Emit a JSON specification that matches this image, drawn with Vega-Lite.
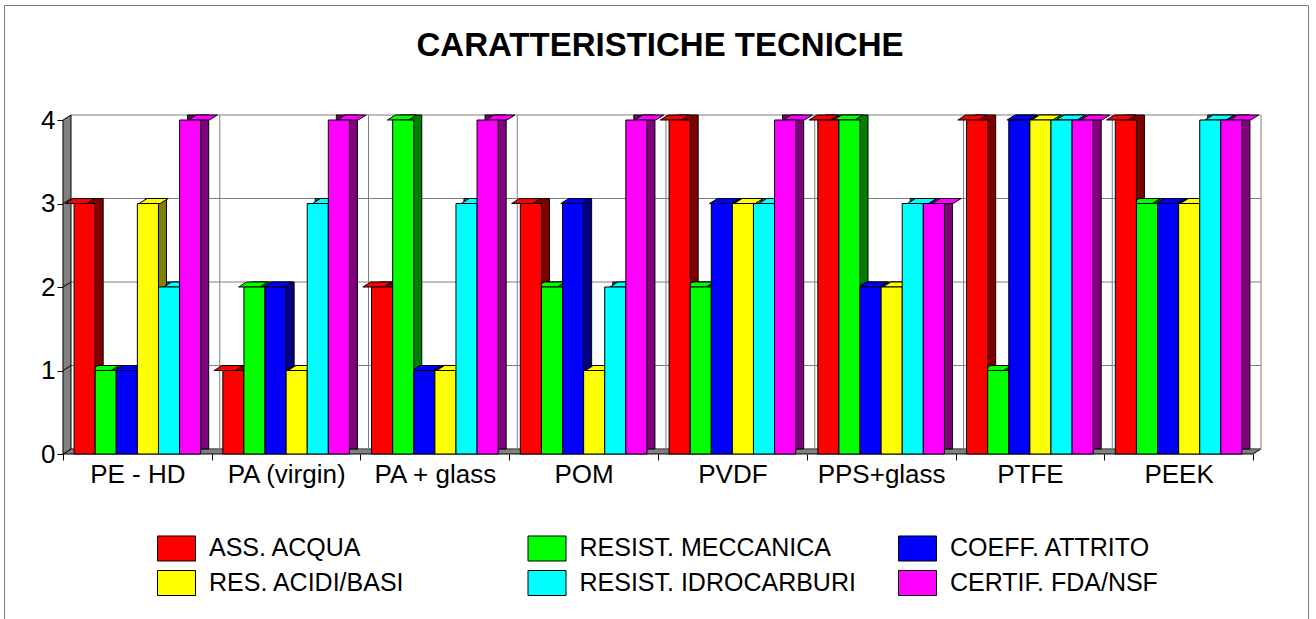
{
  "$schema": "https://vega.github.io/schema/vega-lite/v6.json",
  "autosize": "none",
  "padding": {"left": 4, "top": 5, "right": 8, "bottom": 0},
  "width": 1304,
  "height": 620,
  "background": "white",
  "config": {
    "font": "Liberation Sans",
    "view": {"stroke": "#7f7f7f", "strokeWidth": 1},
    "axis": {"labelFont": "Liberation Sans", "labelColor": "black"}
  },
  "title": {
    "text": "CARATTERISTICHE TECNICHE",
    "font": "Liberation Sans",
    "fontSize": 33,
    "fontWeight": "bold",
    "color": "black",
    "anchor": "middle",
    "baseline": "alphabetic",
    "offset": -52,
    "dy": 32,
    "dx": 4
  },
  "datasets": {
    "ratings": [
      {"material": "PE - HD", "property": "ASS. ACQUA", "value": 3},
      {"material": "PE - HD", "property": "RESIST. MECCANICA", "value": 1},
      {"material": "PE - HD", "property": "COEFF. ATTRITO", "value": 1},
      {"material": "PE - HD", "property": "RES. ACIDI/BASI", "value": 3},
      {"material": "PE - HD", "property": "RESIST. IDROCARBURI", "value": 2},
      {"material": "PE - HD", "property": "CERTIF. FDA/NSF", "value": 4},
      {"material": "PA (virgin)", "property": "ASS. ACQUA", "value": 1},
      {"material": "PA (virgin)", "property": "RESIST. MECCANICA", "value": 2},
      {"material": "PA (virgin)", "property": "COEFF. ATTRITO", "value": 2},
      {"material": "PA (virgin)", "property": "RES. ACIDI/BASI", "value": 1},
      {"material": "PA (virgin)", "property": "RESIST. IDROCARBURI", "value": 3},
      {"material": "PA (virgin)", "property": "CERTIF. FDA/NSF", "value": 4},
      {"material": "PA + glass", "property": "ASS. ACQUA", "value": 2},
      {"material": "PA + glass", "property": "RESIST. MECCANICA", "value": 4},
      {"material": "PA + glass", "property": "COEFF. ATTRITO", "value": 1},
      {"material": "PA + glass", "property": "RES. ACIDI/BASI", "value": 1},
      {"material": "PA + glass", "property": "RESIST. IDROCARBURI", "value": 3},
      {"material": "PA + glass", "property": "CERTIF. FDA/NSF", "value": 4},
      {"material": "POM", "property": "ASS. ACQUA", "value": 3},
      {"material": "POM", "property": "RESIST. MECCANICA", "value": 2},
      {"material": "POM", "property": "COEFF. ATTRITO", "value": 3},
      {"material": "POM", "property": "RES. ACIDI/BASI", "value": 1},
      {"material": "POM", "property": "RESIST. IDROCARBURI", "value": 2},
      {"material": "POM", "property": "CERTIF. FDA/NSF", "value": 4},
      {"material": "PVDF", "property": "ASS. ACQUA", "value": 4},
      {"material": "PVDF", "property": "RESIST. MECCANICA", "value": 2},
      {"material": "PVDF", "property": "COEFF. ATTRITO", "value": 3},
      {"material": "PVDF", "property": "RES. ACIDI/BASI", "value": 3},
      {"material": "PVDF", "property": "RESIST. IDROCARBURI", "value": 3},
      {"material": "PVDF", "property": "CERTIF. FDA/NSF", "value": 4},
      {"material": "PPS+glass", "property": "ASS. ACQUA", "value": 4},
      {"material": "PPS+glass", "property": "RESIST. MECCANICA", "value": 4},
      {"material": "PPS+glass", "property": "COEFF. ATTRITO", "value": 2},
      {"material": "PPS+glass", "property": "RES. ACIDI/BASI", "value": 2},
      {"material": "PPS+glass", "property": "RESIST. IDROCARBURI", "value": 3},
      {"material": "PPS+glass", "property": "CERTIF. FDA/NSF", "value": 3},
      {"material": "PTFE", "property": "ASS. ACQUA", "value": 4},
      {"material": "PTFE", "property": "RESIST. MECCANICA", "value": 1},
      {"material": "PTFE", "property": "COEFF. ATTRITO", "value": 4},
      {"material": "PTFE", "property": "RES. ACIDI/BASI", "value": 4},
      {"material": "PTFE", "property": "RESIST. IDROCARBURI", "value": 4},
      {"material": "PTFE", "property": "CERTIF. FDA/NSF", "value": 4},
      {"material": "PEEK", "property": "ASS. ACQUA", "value": 4},
      {"material": "PEEK", "property": "RESIST. MECCANICA", "value": 3},
      {"material": "PEEK", "property": "COEFF. ATTRITO", "value": 3},
      {"material": "PEEK", "property": "RES. ACIDI/BASI", "value": 3},
      {"material": "PEEK", "property": "RESIST. IDROCARBURI", "value": 4},
      {"material": "PEEK", "property": "CERTIF. FDA/NSF", "value": 4}
    ],
    "levels": [{"v": 0}, {"v": 1}, {"v": 2}, {"v": 3}, {"v": 4}],
    "bounds": [{"b": 1}, {"b": 2}, {"b": 3}, {"b": 4}, {"b": 5}, {"b": 6}, {"b": 7}, {"b": 8}],
    "origin": [{"o": 0}]
  },
  "resolve": {"scale": {"x": "independent"}, "axis": {"x": "independent"}},
  "layer": [
    {
      "layer": [
        {
          "data": {"name": "origin"},
          "mark": {"type": "point", "shape": "M0,0L1190,0L1198,-5L8,-5Z", "size": 4, "filled": true, "fill": "#808080", "stroke": "black", "strokeWidth": 1, "opacity": 1},
          "encoding": {
            "x": {"field": "o", "type": "quantitative", "scale": {"domain": [-0.396639, 8.369748], "nice": false, "zero": false}, "axis": null},
            "y": {"field": "o", "type": "quantitative", "scale": {"domain": [-2.047904, 5.377246], "nice": false, "zero": false},
              "axis": {"title": null, "values": [0, 1, 2, 3, 4], "domain": false, "grid": false, "ticks": true, "tickSize": 6, "tickColor": "black", "tickWidth": 1, "offset": -59, "labelFontSize": 26, "labelPadding": 2, "labelColor": "black"}}
          }
        },
        {
          "data": {"name": "levels"},
          "mark": {"type": "rule", "color": "#808080", "strokeWidth": 1, "xOffset": 8, "x2Offset": 8, "yOffset": -5},
          "encoding": {
            "x": {"datum": 0, "type": "quantitative", "scale": {"domain": [-0.396639, 8.369748], "nice": false, "zero": false}, "axis": null},
            "x2": {"datum": 8},
            "y": {"field": "v", "type": "quantitative", "scale": {"domain": [-2.047904, 5.377246], "nice": false, "zero": false},
              "axis": {"title": null, "values": [0, 1, 2, 3, 4], "domain": false, "grid": false, "ticks": true, "tickSize": 6, "tickColor": "black", "tickWidth": 1, "offset": -59, "labelFontSize": 26, "labelPadding": 2, "labelColor": "black"}}
          }
        },
        {
          "data": {"name": "bounds"},
          "mark": {"type": "rule", "color": "#808080", "strokeWidth": 1, "xOffset": 8, "yOffset": -5, "y2Offset": -5},
          "encoding": {
            "x": {"field": "b", "type": "quantitative", "scale": {"domain": [-0.396639, 8.369748], "nice": false, "zero": false}, "axis": null},
            "y": {"datum": 0, "type": "quantitative", "scale": {"domain": [-2.047904, 5.377246], "nice": false, "zero": false},
              "axis": {"title": null, "values": [0, 1, 2, 3, 4], "domain": false, "grid": false, "ticks": true, "tickSize": 6, "tickColor": "black", "tickWidth": 1, "offset": -59, "labelFontSize": 26, "labelPadding": 2, "labelColor": "black"}},
            "y2": {"datum": 4}
          }
        },
        {
          "data": {"name": "origin"},
          "mark": {"type": "point", "shape": "M0,0L0,-334L8,-339L8,-5Z M0,-83.5L8,-88.5 M0,-167L8,-172 M0,-250.5L8,-255.5", "size": 4, "filled": true, "fill": "#808080", "stroke": "black", "strokeWidth": 1, "opacity": 1},
          "encoding": {
            "x": {"field": "o", "type": "quantitative", "scale": {"domain": [-0.396639, 8.369748], "nice": false, "zero": false}, "axis": null},
            "y": {"field": "o", "type": "quantitative", "scale": {"domain": [-2.047904, 5.377246], "nice": false, "zero": false},
              "axis": {"title": null, "values": [0, 1, 2, 3, 4], "domain": false, "grid": false, "ticks": true, "tickSize": 6, "tickColor": "black", "tickWidth": 1, "offset": -59, "labelFontSize": 26, "labelPadding": 2, "labelColor": "black"}}
          }
        }
      ]
    },
    {
      "data": {"name": "ratings"},
      "resolve": {"scale": {"xOffset": "independent"}},
      "layer": [
        {
          "mark": {"type": "bar", "yOffset": -5, "y2Offset": -5, "stroke": "black", "strokeWidth": 1, "opacity": 1},
          "encoding": {
            "x": {"field": "material", "type": "nominal", "sort": null, "scale": {"paddingInner": 0, "paddingOuter": 0.383193, "align": 0.517544},
              "axis": {"title": null, "orient": "bottom", "offset": -171, "domain": false, "grid": false, "tickBand": "extent", "tickSize": 6, "tickColor": "black", "tickWidth": 1, "labelFontSize": 26, "labelPadding": 1, "labelAngle": 0, "labelColor": "black"}},
            "xOffset": {"field": "property", "type": "nominal", "sort": null, "scale": {"domain": ["ASS. ACQUA", "RESIST. MECCANICA", "COEFF. ATTRITO", "RES. ACIDI/BASI", "RESIST. IDROCARBURI", "CERTIF. FDA/NSF"], "range": [8, 156.75], "paddingInner": 0, "paddingOuter": 0.525}},
            "y": {"field": "value", "type": "quantitative", "scale": {"domain": [-2.047904, 5.377246], "nice": false, "zero": false},
              "axis": {"title": null, "values": [0, 1, 2, 3, 4], "domain": false, "grid": false, "ticks": true, "tickSize": 6, "tickColor": "black", "tickWidth": 1, "offset": -59, "labelFontSize": 26, "labelPadding": 2, "labelColor": "black"}},
            "fill": {"field": "property", "type": "nominal", "sort": null, "scale": {"range": ["#800000", "#008000", "#000080", "#808000", "#008080", "#800080"]}, "legend": null}
          }
        },
        {
          "mark": {"type": "point", "shape": "M-10.55,0L10.55,0L18.55,-5L-2.55,-5Z", "size": 4, "filled": true, "stroke": "black", "strokeWidth": 1, "opacity": 1},
          "encoding": {
            "x": {"field": "material", "type": "nominal", "sort": null, "scale": {"paddingInner": 0, "paddingOuter": 0.383193, "align": 0.517544},
              "axis": {"title": null, "orient": "bottom", "offset": -171, "domain": false, "grid": false, "tickBand": "extent", "tickSize": 6, "tickColor": "black", "tickWidth": 1, "labelFontSize": 26, "labelPadding": 1, "labelAngle": 0, "labelColor": "black"}},
            "xOffset": {"field": "property", "type": "nominal", "sort": null, "scale": {"domain": ["ASS. ACQUA", "RESIST. MECCANICA", "COEFF. ATTRITO", "RES. ACIDI/BASI", "RESIST. IDROCARBURI", "CERTIF. FDA/NSF"], "paddingInner": 0, "paddingOuter": 0.525}},
            "y": {"field": "value", "type": "quantitative", "scale": {"domain": [-2.047904, 5.377246], "nice": false, "zero": false},
              "axis": {"title": null, "values": [0, 1, 2, 3, 4], "domain": false, "grid": false, "ticks": true, "tickSize": 6, "tickColor": "black", "tickWidth": 1, "offset": -59, "labelFontSize": 26, "labelPadding": 2, "labelColor": "black"}},
            "color": {"field": "property", "type": "nominal", "scale": {"domain": ["ASS. ACQUA", "RESIST. MECCANICA", "COEFF. ATTRITO", "RES. ACIDI/BASI", "RESIST. IDROCARBURI", "CERTIF. FDA/NSF"], "range": ["#ff0000", "#00ff00", "#0000ff", "#ffff00", "#00ffff", "#ff00ff"]},
              "legend": {"title": null, "orient": "none", "legendX": 153, "legendY": 523.5, "direction": "horizontal", "columns": 3, "gridAlign": "all", "columnPadding": 39.5, "rowPadding": 0, "padding": 0, "symbolType": "M-1,-0.658L1,-0.658L1,0.658L-1,0.658Z", "symbolSize": 1444, "symbolStrokeColor": "black", "symbolStrokeWidth": 1, "symbolOpacity": 1, "labelFontSize": 25, "labelFont": "Liberation Sans", "labelColor": "black", "labelOffset": 13, "labelLimit": 0}}
          }
        },
        {
          "mark": {"type": "bar", "stroke": "black", "strokeWidth": 1, "opacity": 1},
          "encoding": {
            "x": {"field": "material", "type": "nominal", "sort": null, "scale": {"paddingInner": 0, "paddingOuter": 0.383193, "align": 0.517544},
              "axis": {"title": null, "orient": "bottom", "offset": -171, "domain": false, "grid": false, "tickBand": "extent", "tickSize": 6, "tickColor": "black", "tickWidth": 1, "labelFontSize": 26, "labelPadding": 1, "labelAngle": 0, "labelColor": "black"}},
            "xOffset": {"field": "property", "type": "nominal", "sort": null, "scale": {"domain": ["ASS. ACQUA", "RESIST. MECCANICA", "COEFF. ATTRITO", "RES. ACIDI/BASI", "RESIST. IDROCARBURI", "CERTIF. FDA/NSF"], "paddingInner": 0, "paddingOuter": 0.525}},
            "y": {"field": "value", "type": "quantitative", "scale": {"domain": [-2.047904, 5.377246], "nice": false, "zero": false},
              "axis": {"title": null, "values": [0, 1, 2, 3, 4], "domain": false, "grid": false, "ticks": true, "tickSize": 6, "tickColor": "black", "tickWidth": 1, "offset": -59, "labelFontSize": 26, "labelPadding": 2, "labelColor": "black"}},
            "color": {"field": "property", "type": "nominal", "scale": {"domain": ["ASS. ACQUA", "RESIST. MECCANICA", "COEFF. ATTRITO", "RES. ACIDI/BASI", "RESIST. IDROCARBURI", "CERTIF. FDA/NSF"], "range": ["#ff0000", "#00ff00", "#0000ff", "#ffff00", "#00ffff", "#ff00ff"]},
              "legend": {"title": null, "orient": "none", "legendX": 153, "legendY": 523.5, "direction": "horizontal", "columns": 3, "gridAlign": "all", "columnPadding": 39.5, "rowPadding": 0, "padding": 0, "symbolType": "M-1,-0.658L1,-0.658L1,0.658L-1,0.658Z", "symbolSize": 1444, "symbolStrokeColor": "black", "symbolStrokeWidth": 1, "symbolOpacity": 1, "labelFontSize": 25, "labelFont": "Liberation Sans", "labelColor": "black", "labelOffset": 13, "labelLimit": 0}}
          }
        }
      ]
    }
  ]
}
